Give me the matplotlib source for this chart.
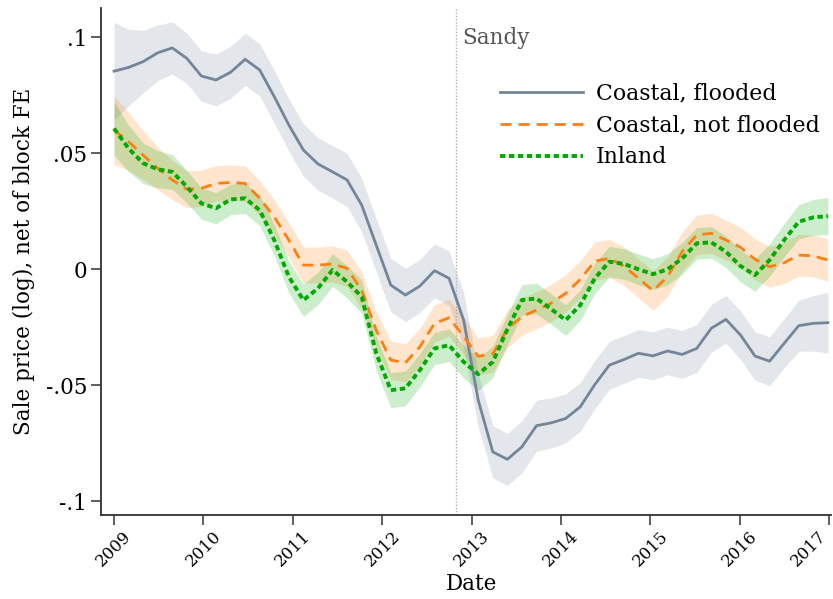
import numpy as np
import matplotlib
matplotlib.use("Agg")
import matplotlib.pyplot as plt

plt.rcParams["font.family"] = ["DejaVu Serif"]

# Observation dates (decimal years), roughly bimonthly from Jan 2009
dates = np.linspace(2009.0, 2016.985, 50)

# Estimated log sale price, net of block fixed effects
coastal_flooded = [
    .0853, .0869, .0894, .0932, .0953, .0908, .0832, .0815, .0848, .0904,
    .0858, .0743, .0621, .0513, .0453, .0419, .0384, .0276, .0103, -.0069,
    -.0112, -.0073, -.0007, -.0040, -.0220, -.0565, -.0788, -.0820, -.0766, -.0675,
    -.0663, -.0644, -.0594, -.0498, -.0414, -.0390, -.0363, -.0374, -.0353, -.0368,
    -.0342, -.0255, -.0217, -.0284, -.0375, -.0397, -.0320, -.0244, -.0234, -.0231,
]
coastal_not_flooded = [
    .0599, .0549, .0491, .0434, .0384, .0344, .0348, .0369, .0373, .0369,
    .0305, .0225, .0125, .0017, .0017, .0022, .0003, -.0091, -.0263, -.0392,
    -.0404, -.0335, -.0234, -.0210, -.0290, -.0376, -.0366, -.0258, -.0205, -.0177,
    -.0147, -.0105, -.0045, .0034, .0046, .0013, -.0040, -.0093, -.0033, .0075,
    .0147, .0154, .0125, .0094, .0042, .0010, .0027, .0060, .0057, .0039,
]
inland = [
    .0606, .0520, .0456, .0430, .0419, .0355, .0283, .0262, .0300, .0305,
    .0254, .0125, -.0033, -.0134, -.0083, -.0004, -.0055, -.0119, -.0363, -.0522,
    -.0514, -.0435, -.0342, -.0328, -.0400, -.0453, -.0400, -.0260, -.0133, -.0127,
    -.0172, -.0220, -.0156, -.0040, .0032, .0022, -.0001, -.0022, -.0001, .0046,
    .0111, .0115, .0075, .0013, -.0026, .0039, .0125, .0204, .0223, .0228,
]

# Half-widths of the confidence bands
ci_flooded = [
    .0210, .0165, .0135, .0120, .0112, .0108, .0108, .0112, .0112, .0112,
    .0113, .0113, .0113, .0113, .0113, .0113, .0115, .0115, .0115, .0115,
    .0115, .0115, .0116, .0118, .0118, .0115, .0112, .0112, .0112, .0110,
    .0108, .0106, .0105, .0104, .0103, .0103, .0103, .0103, .0103, .0103,
    .0103, .0103, .0103, .0104, .0105, .0105, .0106, .0110, .0120, .0130,
]
ci_not_flooded = [
    .0148, .0125, .0105, .0092, .0085, .0080, .0078, .0076, .0076, .0075,
    .0075, .0075, .0076, .0077, .0078, .0078, .0078, .0080, .0080, .0082,
    .0082, .0080, .0080, .0080, .0080, .0080, .0080, .0080, .0080, .0080,
    .0080, .0080, .0080, .0082, .0082, .0083, .0084, .0085, .0085, .0085,
    .0085, .0086, .0086, .0087, .0088, .0088, .0089, .0090, .0090, .0092,
]
ci_inland = [
    .0115, .0100, .0088, .0080, .0075, .0070, .0068, .0067, .0066, .0066,
    .0066, .0067, .0068, .0070, .0070, .0070, .0070, .0072, .0074, .0076,
    .0075, .0072, .0070, .0070, .0070, .0070, .0068, .0066, .0066, .0066,
    .0066, .0066, .0066, .0066, .0066, .0066, .0066, .0066, .0067, .0068,
    .0068, .0068, .0068, .0068, .0070, .0070, .0072, .0074, .0077, .0080,
]

labels = ["Coastal, flooded", "Coastal, not flooded", "Inland"]
colors = ["#738699", "#ff7f0e", "#00aa00"]
styles = [dict(linestyle="-", linewidth=2.0),
          dict(linestyle=(0, (4.0, 2.5)), linewidth=2.0),
          dict(linestyle=(0, (1.4, 0.9)), linewidth=2.8)]

sandy_date = 2012.83
year_ticks = list(range(2009, 2018))
y_ticks = [-.1, -.05, 0, .05, .1]
y_ticklabels = ["-.1", "-.05", "0", ".05", ".1"]

fig = plt.figure(figsize=(8.33, 5.99), dpi=100)
ax = fig.add_axes([0.1213, 0.1402, 0.8763, 0.8464])

series = [coastal_flooded, coastal_not_flooded, inland]
cis = [ci_flooded, ci_not_flooded, ci_inland]
for vals, ci, col in zip(series, cis, colors):
    v = np.asarray(vals)
    c = np.asarray(ci)
    ax.fill_between(dates, v - c, v + c, color=col, alpha=0.2, linewidth=0)

ax.axvline(sandy_date, color="#b0b0b0", linestyle=(0, (1, 1.3)), linewidth=1.0)
ax.text(sandy_date + 0.07, 0.0995, "Sandy", color="#555555", fontsize=15.5,
        va="center", ha="left")

handles = []
for vals, col, lab, st in zip(series, colors, labels, styles):
    h, = ax.plot(dates, vals, color=col, label=lab, **st)
    handles.append(h)

leg = ax.legend(handles=handles, loc="upper left", bbox_to_anchor=(0.547, 0.853),
                frameon=False, fontsize=15.8, handlelength=3.75, handletextpad=0.62,
                labelspacing=0.45, borderpad=0, borderaxespad=0)

ax.set_xlim(2008.855, 2017.02)
ax.set_ylim(-0.106, 0.1125)
ax.set_xticks(year_ticks)
ax.set_xticklabels([str(y) for y in year_ticks], rotation=45, ha="center",
                   fontsize=12)
# keep the last year label inside the canvas
ax.get_xticklabels()[-1].set_horizontalalignment("right")
ax.set_yticks(y_ticks)
ax.set_yticklabels(y_ticklabels, fontsize=15.5)
ax.set_xlabel("Date", fontsize=15.5)
ax.xaxis.set_label_coords(0.507, -0.115)
ax.set_ylabel("Sale price (log), net of block FE", fontsize=15.5, labelpad=8)

for side in ("top", "right"):
    ax.spines[side].set_visible(False)
for side in ("left", "bottom"):
    ax.spines[side].set_color("#333333")
    ax.spines[side].set_linewidth(1.3)
ax.tick_params(direction="out", length=7, width=1.1, color="#333333")
ax.tick_params(axis="y", pad=3)
ax.tick_params(axis="x", pad=2)

fig.savefig("out.png", dpi=100)
